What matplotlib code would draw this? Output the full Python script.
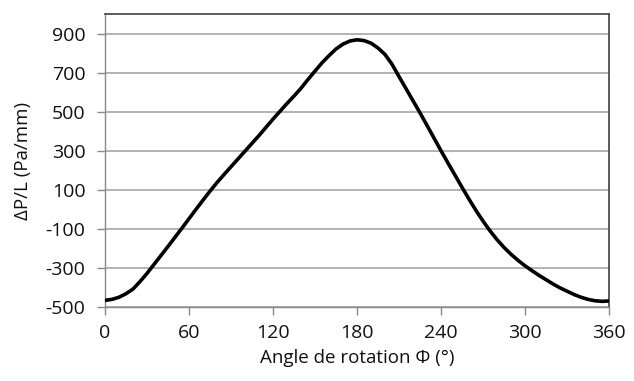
import matplotlib
matplotlib.use('Agg')
import matplotlib.pyplot as plt

# Angle de rotation (deg) and pressure gradient (Pa/mm)
phi = [0, 5, 10, 15, 20, 25, 30, 35, 40, 45, 50, 55, 60, 65, 70, 75, 80, 85,
       90, 95, 100, 105, 110, 115, 120, 125, 130, 135, 140, 145, 150, 155,
       160, 165, 170, 175, 180, 185, 190, 195, 200, 205, 210, 215, 220, 225,
       230, 235, 240, 245, 250, 255, 260, 265, 270, 275, 280, 285, 290, 295,
       300, 305, 310, 315, 320, 325, 330, 335, 340, 345, 350, 355, 360]
dp_l = [-466, -461, -450, -432, -408, -370, -328, -282, -236, -190, -143, -96,
        -48, 0, 47, 93, 137, 178, 218, 258, 298, 338, 378, 420, 462, 502, 542,
        580, 620, 665, 708, 750, 787, 821, 846, 862, 868, 864, 851, 826, 793,
        743, 680, 618, 556, 494, 430, 365, 300, 237, 175, 113, 52, -6, -60,
        -110, -155, -195, -230, -261, -289, -314, -338, -360, -382, -402, -419,
        -436, -450, -461, -468, -471, -469]

x_ticks = [0, 60, 120, 180, 240, 300, 360]
y_ticks = [-500, -300, -100, 100, 300, 500, 700, 900]

plt.rcParams['font.family'] = ['Open Sans', 'DejaVu Sans']
plt.rcParams['axes.unicode_minus'] = False

fig = plt.figure(figsize=(6.34, 3.81), dpi=100)
ax = fig.add_axes([0.1656, 0.1942, 0.795, 0.769])

ax.plot(phi, dp_l, color='black', linewidth=2.6, solid_capstyle='round',
        solid_joinstyle='round', zorder=3)

ax.set_xlim(0, 360)
ax.set_ylim(-500, 1000)
ax.set_xticks(x_ticks)
ax.set_yticks(y_ticks)
ax.grid(axis='y', color='#a6a6a6', linewidth=1.2)
ax.set_axisbelow(True)

for side in ['left', 'bottom']:
    ax.spines[side].set_color('#888888')
    ax.spines[side].set_linewidth(1.0)
for side in ['top', 'right']:
    ax.spines[side].set_color('#404040')
    ax.spines[side].set_linewidth(1.2)

ax.tick_params(axis='both', direction='out', length=6, width=1.0,
               color='#888888', labelsize=14, labelcolor='#111111')
ax.tick_params(axis='y', pad=8)
ax.tick_params(axis='x', pad=6)

ax.set_xlabel('Angle de rotation Φ (°)', fontsize=13.5, color='#111111', labelpad=5)
ax.set_ylabel('ΔP/L (Pa/mm)', fontsize=13.5, color='#111111', labelpad=10)

fig.savefig('out.png', dpi=100)
